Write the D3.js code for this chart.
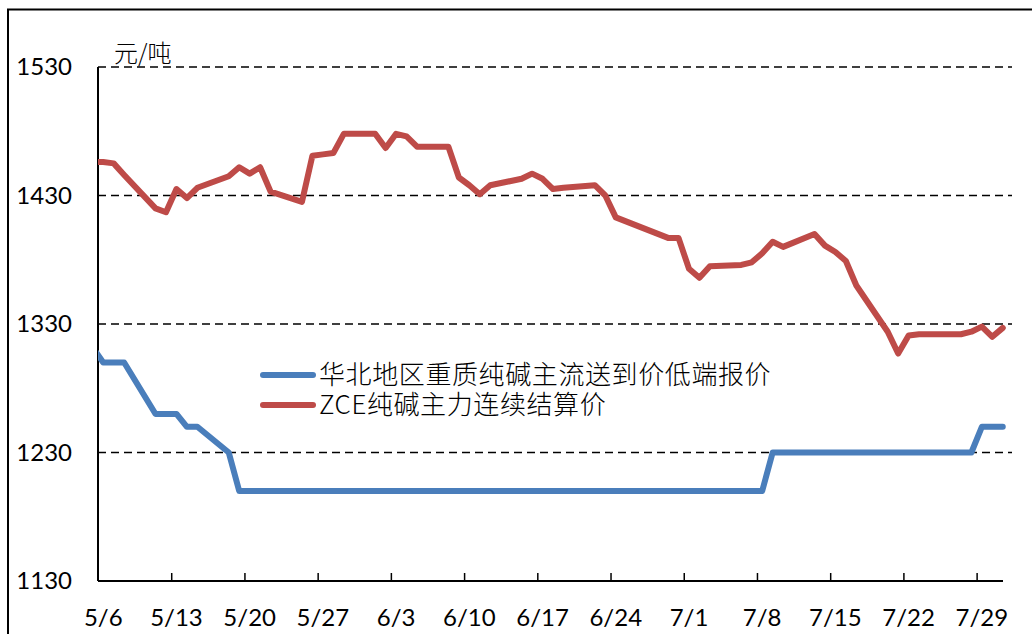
<!DOCTYPE html>
<html>
<head>
<meta charset="utf-8">
<script src="https://cdn.jsdelivr.net/npm/d3@7"></script>
<style>
  body { margin: 0; background: #fff; }
  text { font-family: Lato, "Noto Sans CJK SC", sans-serif; fill: #000; }
  .cjk { font-family: "Noto Sans CJK SC", sans-serif; font-weight: 300; }
</style>
</head>
<body>
<div class="vis"></div>
<script>
// trading days (2020); first one sits left of the axis and gets clipped
const dates = [
  "4/30",
  "5/6", "5/7", "5/8", "5/11", "5/12", "5/13", "5/14", "5/15", "5/18", "5/19",
  "5/20", "5/21", "5/22", "5/25", "5/26", "5/27", "5/28", "5/29",
  "6/1", "6/2", "6/3", "6/4", "6/5", "6/8", "6/9", "6/10", "6/11", "6/12",
  "6/15", "6/16", "6/17", "6/18", "6/19", "6/22", "6/23", "6/24", "6/29", "6/30",
  "7/1", "7/2", "7/3", "7/6", "7/7", "7/8", "7/9", "7/10", "7/13", "7/14",
  "7/15", "7/16", "7/17", "7/20", "7/21", "7/22", "7/23", "7/24", "7/27", "7/28",
  "7/29", "7/30", "7/31"
];

const spotLow = [
  1370,
  1300, 1300, 1300, 1260, 1260, 1260, 1250, 1250, 1230, 1200,
  1200, 1200, 1200, 1200, 1200, 1200, 1200, 1200,
  1200, 1200, 1200, 1200, 1200, 1200, 1200, 1200, 1200, 1200,
  1200, 1200, 1200, 1200, 1200, 1200, 1200, 1200, 1200, 1200,
  1200, 1200, 1200, 1200, 1200, 1200, 1230, 1230, 1230, 1230,
  1230, 1230, 1230, 1230, 1230, 1230, 1230, 1230, 1230, 1230,
  1250, 1250, 1250
];

const zceSettle = [
  1456,
  1456, 1455, 1446, 1420, 1417, 1435, 1428, 1436, 1445, 1452,
  1447, 1452, 1433, 1425, 1461, 1462, 1463, 1478,
  1478, 1467, 1478, 1476, 1468, 1468, 1444, 1438, 1431, 1438,
  1443, 1447, 1443, 1435, 1436, 1438, 1430, 1413, 1397, 1397,
  1373, 1366, 1375, 1376, 1378, 1385, 1394, 1390, 1400, 1391,
  1386, 1379, 1360, 1324, 1307, 1321, 1322, 1322, 1322, 1324,
  1328, 1320, 1327
];

const seriesNames = ["华北地区重质纯碱主流送到价低端报价", "ZCE纯碱主力连续结算价"];
const seriesColors = ["#4A7EBB", "#BE4B48"];
const yTicks = [1130, 1230, 1330, 1430, 1530];
const xTickLabels = ["5/6", "5/13", "5/20", "5/27", "6/3", "6/10", "6/17", "6/24",
  "7/1", "7/8", "7/15", "7/22", "7/29"];
const unitLabel = "元/吨";

const W = 1032, H = 634;
const margin = { top: 67, right: 24, bottom: 53, left: 98 };

const parse = (s) => {
  const [m, d] = s.split("/").map(Number);
  return new Date(2020, m - 1, d);
};
const DAY = 864e5;
const halfDay = (s, k) => new Date(parse(s).getTime() + k * DAY / 2);

const svg = d3.select(".vis").append("svg")
  .attr("width", W).attr("height", H);

// outer frame
svg.append("rect")
  .attr("x", 8).attr("y", 9.5)
  .attr("width", W + 20).attr("height", H + 20)
  .attr("fill", "none").attr("stroke", "#000").attr("stroke-width", 2);

const x = d3.scaleTime()
  .domain([halfDay("5/6", -1), halfDay("7/31", 1)])
  .range([margin.left, W - margin.right]);

const y = d3.scaleLinear()
  .domain([1130, 1530])
  .range([H - margin.bottom, margin.top]);

svg.append("defs").append("clipPath").attr("id", "plot")
  .append("rect")
  .attr("x", margin.left).attr("y", 0)
  .attr("width", W - margin.left).attr("height", H);

// dashed grid
svg.append("g")
  .selectAll("line")
  .data(yTicks.filter((t) => t > 1130))
  .join("line")
  .attr("x1", margin.left).attr("x2", 1012)
  .attr("y1", (d) => y(d)).attr("y2", (d) => y(d))
  .attr("stroke", "#000").attr("stroke-width", 1.6)
  .attr("stroke-dasharray", "8,5");

// y labels
svg.append("g")
  .selectAll("text")
  .data(yTicks)
  .join("text")
  .attr("x", 72).attr("y", (d) => y(d))
  .attr("text-anchor", "end").attr("dy", "0.35em")
  .style("font-size", "24px")
  .text((d) => d);

// axes lines
svg.append("line")
  .attr("x1", margin.left).attr("x2", margin.left)
  .attr("y1", y(1530)).attr("y2", y(1130))
  .attr("stroke", "#000").attr("stroke-width", 2);

const xAxis = d3.axisBottom(x)
  .tickValues(xTickLabels.map((s) => halfDay(s, -1)).slice(1))
  .tickSize(-8)
  .tickFormat("");

const gx = svg.append("g")
  .attr("transform", `translate(0,${y(1130)})`)
  .call(xAxis);
gx.select(".domain").attr("stroke", "#000").attr("stroke-width", 2)
  .attr("d", `M${margin.left},0H1003`);
gx.selectAll(".tick line").attr("stroke", "#000").attr("stroke-width", 1.5);

svg.append("g")
  .selectAll("text")
  .data(xTickLabels)
  .join("text")
  .attr("x", (d) => x(parse(d)))
  .attr("y", 626)
  .attr("text-anchor", "middle")
  .style("font-size", "24px")
  .text((d) => d);

// unit
svg.append("text")
  .attr("class", "cjk")
  .attr("x", 114).attr("y", 62)
  .style("font-size", "24px")
  .text(unitLabel);

// lines
const line = d3.line()
  .x((d) => x(parse(d.date)))
  .y((d) => y(d.value));

const allSeries = [spotLow, zceSettle].map((vals, i) => ({
  name: seriesNames[i],
  color: seriesColors[i],
  values: dates.map((dt, j) => ({ date: dt, value: vals[j] }))
}));

svg.append("g")
  .attr("clip-path", "url(#plot)")
  .selectAll("path")
  .data(allSeries)
  .join("path")
  .attr("d", (d) => line(d.values))
  .attr("fill", "none")
  .attr("stroke", (d) => d.color)
  .attr("stroke-width", 6)
  .attr("stroke-linejoin", "round")
  .attr("stroke-linecap", "round");

// legend
const lg = svg.append("g").attr("transform", "translate(263,375)");
lg.selectAll("line")
  .data(allSeries)
  .join("line")
  .attr("x1", 0).attr("x2", 50)
  .attr("y1", (d, i) => i * 30).attr("y2", (d, i) => i * 30)
  .attr("stroke", (d) => d.color)
  .attr("stroke-width", 6)
  .attr("stroke-linecap", "round");
lg.selectAll("text")
  .data(allSeries)
  .join("text")
  .attr("class", "cjk")
  .attr("x", 56)
  .attr("y", (d, i) => i * 30)
  .attr("dy", "0.36em")
  .style("font-size", "26px")
  .style("letter-spacing", "0.6px")
  .text((d) => d.name);
</script>
</body>
</html>
